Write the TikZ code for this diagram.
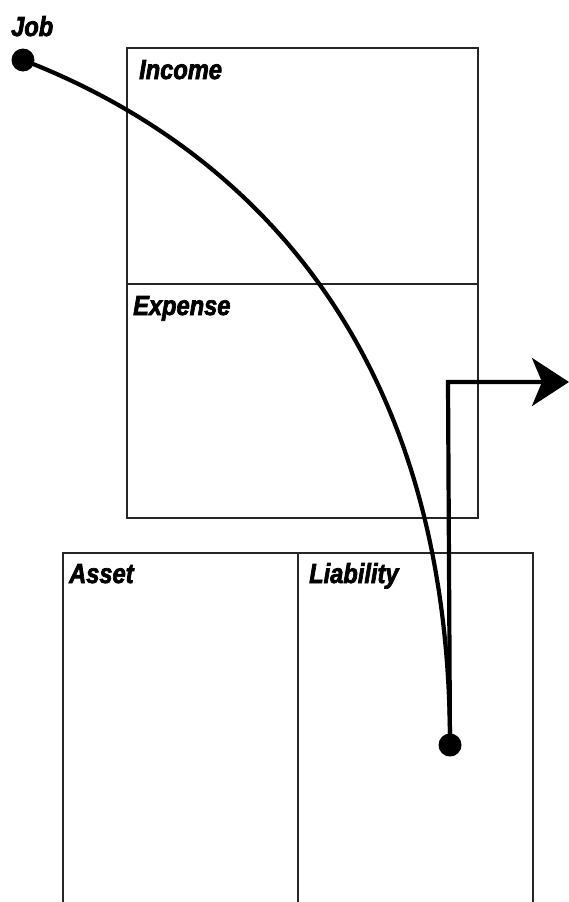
\documentclass[tikz,border=0pt]{standalone}
\usepackage{fontspec}
\setmainfont{Liberation Sans}
\newfontfamily\heavyfont{Liberation Sans}[UprightFont={* Bold Italic},FakeBold=2.5,FakeStretch=0.86]
\usetikzlibrary{arrows.meta}
\begin{document}
\begin{tikzpicture}[x=1pt,y=-1pt,
  boxline/.style={line width=1.4pt,black!85},
  lbl/.style={anchor=base west,inner sep=0pt,font=\heavyfont\fontsize{27.5}{27.5}\selectfont},
  dot/.style={circle,fill=black,inner sep=0pt,minimum size=23pt},
  flow/.style={line width=4.2pt,black}]
\useasboundingbox (0,0) rectangle (569,902);
% top box
\draw[boxline] (127,48) rectangle (478,518);
\draw[boxline] (127,284) -- (478,284);
% bottom box (open at the bottom)
\draw[boxline] (63,902) -- (63,553) -- (533,553) -- (533,902);
\draw[boxline] (298,553) -- (298,902);
% labels
\node[lbl] (job) at (11,36) {Job};
\node[lbl] (income) at (139,79) {Income};
\node[lbl] (expense) at (133,315) {Expense};
\node[lbl] (asset) at (69,583) {Asset};
\node[lbl] (liab) at (309,583) {Liability};
% dots
\node[dot] (start) at (23,60) {};
\node[dot] (end) at (450,745) {};
\coordinate (corner) at (448,382);
\coordinate (tip) at (569,382);
% connectors
\draw[flow] (start.center) .. controls (230,140) and (450,330) .. (end.center);
\draw[flow,line join=miter,-{Stealth[length=37pt,width=48pt,inset=10pt]}] (end.center) -- (corner) -- (tip);
\end{tikzpicture}
\end{document}
